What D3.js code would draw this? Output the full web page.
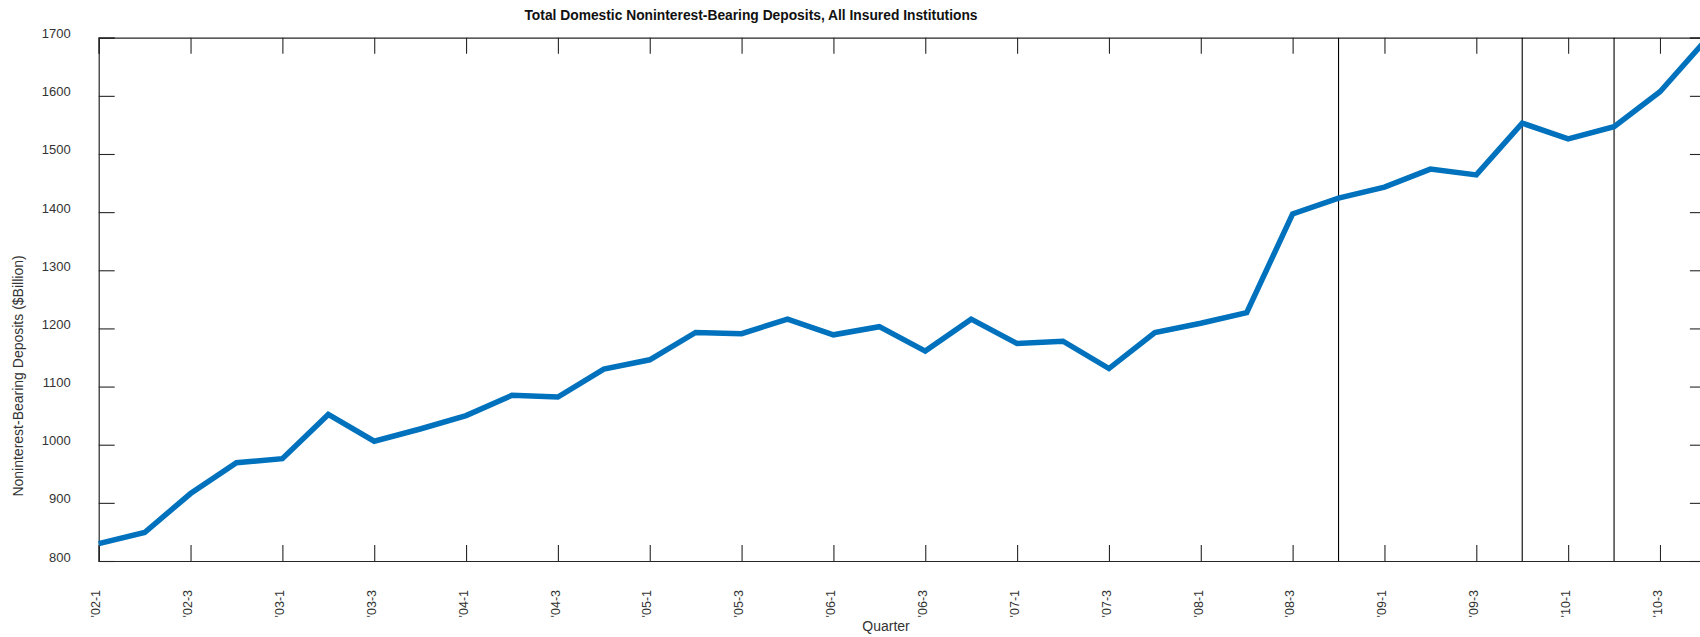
<!DOCTYPE html>
<html>
<head>
<meta charset="utf-8">
<script src="https://cdn.jsdelivr.net/npm/d3@7"></script>
<style>
  html, body { margin: 0; padding: 0; background: #fff; overflow: hidden; }
  svg { display: block; font-family: "Liberation Sans", Arial, sans-serif; }
</style>
</head>
<body>
<svg id="chart" width="1700" height="637"></svg>
<script>
const quarters = ["'02-1","'02-2","'02-3","'02-4","'03-1","'03-2","'03-3","'03-4",
  "'04-1","'04-2","'04-3","'04-4","'05-1","'05-2","'05-3","'05-4",
  "'06-1","'06-2","'06-3","'06-4","'07-1","'07-2","'07-3","'07-4",
  "'08-1","'08-2","'08-3","'08-4","'09-1","'09-2","'09-3","'09-4",
  "'10-1","'10-2","'10-3","'10-4"];
const deposits = [830, 849, 916, 969, 976, 1052, 1006, 1027,
  1050, 1085, 1082, 1130, 1146, 1193, 1191, 1216,
  1189, 1203, 1161, 1216, 1174, 1178, 1131, 1193,
  1209, 1227, 1397, 1424, 1443, 1474, 1464, 1553,
  1526, 1547, 1607, 1696];
const yTicks = [800, 900, 1000, 1100, 1200, 1300, 1400, 1500, 1600, 1700];
const xTickLabels = quarters.filter((q, i) => i % 2 === 0);
const markerQuarters = ["'08-4", "'09-4", "'10-2"];

(function () {
const svg = d3.select("#chart");
const mLeft = 98.7, mRight = 1705.9, mTop = 37.7, mBottom = 561;
const axisColor = "#262626";

const x = d3.scalePoint().domain(quarters).range([mLeft, mRight]);
const y = d3.scaleLinear().domain([800, 1700]).range([mBottom, mTop]);

const g = svg.append("g");

// Left axis with inward ticks and labels
const yAxisL = g.append("g").attr("transform", `translate(${mLeft},0)`)
  .call(d3.axisLeft(y).tickValues(yTicks).tickSize(-16).tickPadding(28).tickFormat(d3.format("d")));
yAxisL.selectAll("text").attr("dy", "0").attr("font-size", "13px").attr("fill", "#333")
  .attr("font-family", "Liberation Sans, Arial, sans-serif");

// Right axis ticks
g.append("g").attr("transform", `translate(${mRight},0)`)
  .call(d3.axisRight(y).tickValues(yTicks).tickSize(-16).tickFormat(""));

// Bottom axis
const xAxisB = g.append("g").attr("transform", `translate(0,${mBottom})`)
  .call(d3.axisBottom(x).tickValues(xTickLabels).tickSize(-16));
xAxisB.selectAll("text")
  .attr("transform", "translate(0,29) rotate(-90)")
  .attr("x", 0).attr("y", 0).attr("dy", "0.1em")
  .attr("text-anchor", "end")
  .attr("font-size", "12.5px").attr("fill", "#333")
  .attr("font-family", "Liberation Sans, Arial, sans-serif");

// Top axis
g.append("g").attr("transform", `translate(0,${mTop})`)
  .call(d3.axisTop(x).tickValues(xTickLabels).tickSize(-16).tickFormat(""));

g.selectAll(".domain").attr("stroke", axisColor).attr("stroke-width", 1.2);
g.selectAll(".tick line").attr("stroke", axisColor).attr("stroke-width", 1.1);

// Vertical marker lines
svg.append("g").selectAll("line").data(markerQuarters).join("line")
  .attr("x1", d => x(d)).attr("x2", d => x(d))
  .attr("y1", mTop).attr("y2", mBottom)
  .attr("stroke", "#000").attr("stroke-width", 1.1);

// Data line
const line = d3.line().x((d, i) => x(quarters[i])).y(d => y(d));
svg.append("path").datum(deposits)
  .attr("d", line)
  .attr("fill", "none")
  .attr("stroke", "#0072BD")
  .attr("stroke-width", 5.5)
  .attr("stroke-linejoin", "miter")
  .attr("stroke-linecap", "butt");

// Title
svg.append("text").attr("x", 751).attr("y", 20)
  .attr("text-anchor", "middle").attr("font-size", "13.8px").attr("font-weight", "bold")
  .attr("fill", "#111")
  .text("Total Domestic Noninterest-Bearing Deposits, All Insured Institutions");

// X label
svg.append("text").attr("x", 886).attr("y", 631)
  .attr("text-anchor", "middle").attr("font-size", "14px").attr("fill", "#333")
  .text("Quarter");

// Y label
svg.append("text").attr("transform", "translate(22.5,376) rotate(-90)")
  .attr("text-anchor", "middle").attr("font-size", "14px").attr("fill", "#333")
  .text("Noninterest-Bearing Deposits ($Billion)");
})();
</script>
</body>
</html>
